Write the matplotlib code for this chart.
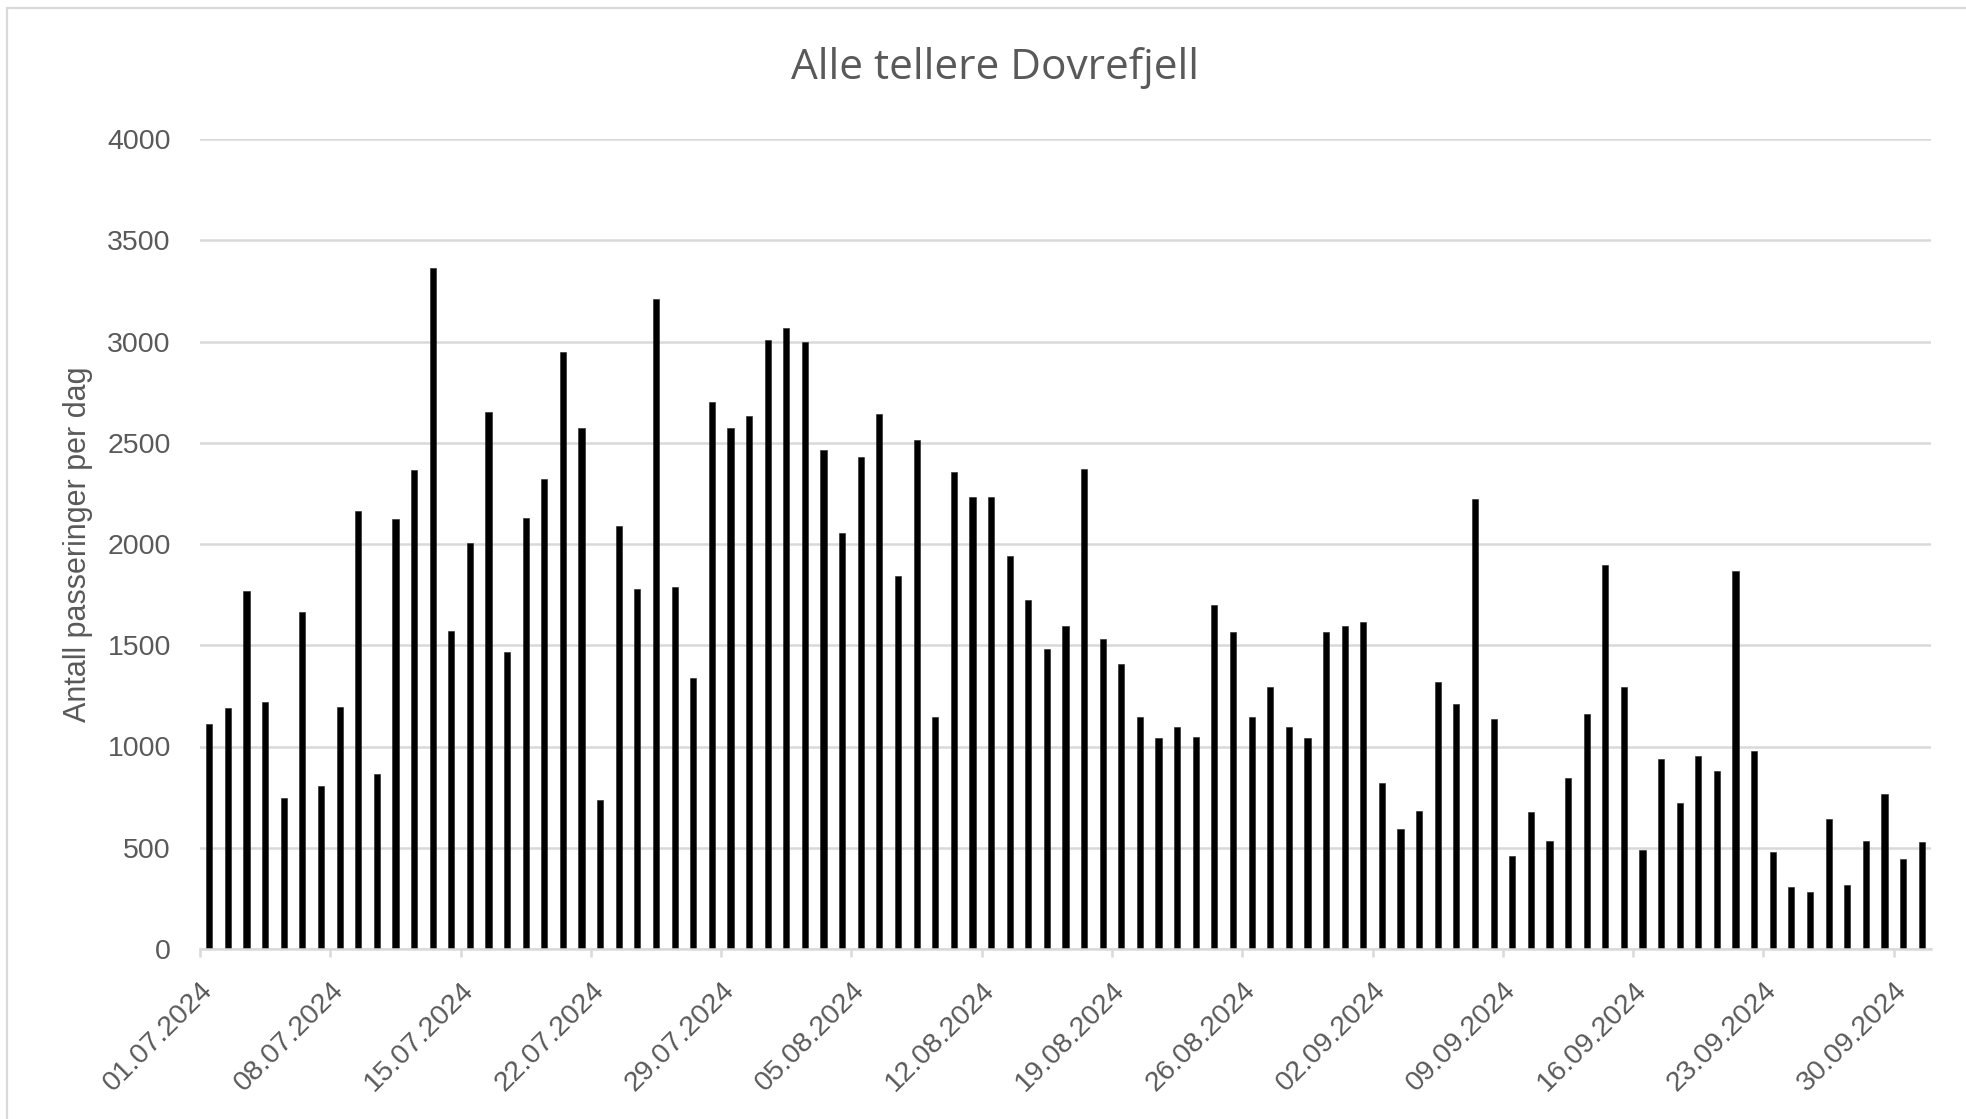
import pandas as pd
import matplotlib
matplotlib.use("Agg")
import matplotlib.pyplot as plt
from matplotlib.patches import Rectangle

# ─── data ───────────────────────────────────────────
start_date = '2024-07-01'
passeringer = [1110, 1190, 1770, 1220, 745, 1665, 805, 1195, 2165, 865, 2125, 2365, 3365, 1570, 2005, 2650, 1465, 2130, 2320,
               2950, 2575, 735, 2090, 1780, 3210, 1790, 1340, 2700, 2575, 2630, 3005, 3065, 3000, 2465, 2055, 2430, 2640, 1840,
               2515, 1145, 2355, 2230, 2230, 1940, 1725, 1480, 1595, 2370, 1530, 1405, 1145, 1040, 1095, 1045, 1700, 1565, 1145,
               1295, 1095, 1040, 1565, 1595, 1615, 820, 595, 680, 1320, 1210, 2220, 1135, 460, 675, 535, 845, 1160,
               1895, 1295, 490, 940, 720, 955, 880, 1865, 980, 480, 305, 280, 640, 315, 535, 765, 445, 530]
y_ticks = [0, 500, 1000, 1500, 2000, 2500, 3000, 3500, 4000]
tick_every = 7

title = "Alle tellere Dovrefjell"
ylabel = "Antall passeringer per dag"

dates = pd.date_range(start_date, periods=len(passeringer), freq='D')
x = list(range(len(dates)))
tick_pos = [i - 0.5 for i in x[::tick_every]]
tick_lab = [d.strftime('%d.%m.%Y') for d in dates[::tick_every]]

# ─── plot ───────────────────────────────────────────
GRAY_TXT = '#595959'
GRAY_LN = '#d9d9d9'
plt.rcParams['font.family'] = ['Liberation Sans', 'DejaVu Sans']

fig = plt.figure(figsize=(19.66, 11.19), dpi=100)
ax = fig.add_axes([200/1966, 1 - 949/1119, (1931-200)/1966, (949-139)/1119])

ax.bar(x, passeringer, width=0.33, color='black', edgecolor='#222222', linewidth=0.4, zorder=3)

ax.set_xlim(-0.5, len(x) - 0.5)
ax.set_ylim(0, 4000)
ax.set_yticks(y_ticks)
ax.set_xticks(tick_pos)
ax.set_xticklabels(tick_lab, rotation=45, ha='right', va='top', rotation_mode='anchor')

ax.grid(axis='y', color=GRAY_LN, linewidth=1.8, zorder=0)
for s in ['top', 'right', 'left']:
    ax.spines[s].set_visible(False)
ax.spines['bottom'].set_color(GRAY_LN)
ax.spines['bottom'].set_linewidth(1.8)
ax.spines['bottom'].set_zorder(4)

ax.tick_params(axis='y', length=0, pad=21, labelsize=20.5, labelcolor=GRAY_TXT)
ax.tick_params(axis='x', length=6, width=1.8, color=GRAY_LN, pad=14, labelsize=20.5, labelcolor=GRAY_TXT)

fig.text(0.506, 1 - 68/1119, title, ha='center', va='center', fontsize=30.5,
         color=GRAY_TXT, family=['Open Sans', 'DejaVu Sans'])
fig.text(78/1966, 1 - 544/1119, ylabel, rotation=90, ha='center', va='center',
         fontsize=22, color=GRAY_TXT)

# chart border (Excel chart area)
fig.patches.append(Rectangle((7/1966, -0.05), 1.05, 1 - 8/1119 + 0.05, transform=fig.transFigure,
                             fill=False, edgecolor=GRAY_LN, linewidth=1.6))

plt.savefig('out.png', dpi=100)
